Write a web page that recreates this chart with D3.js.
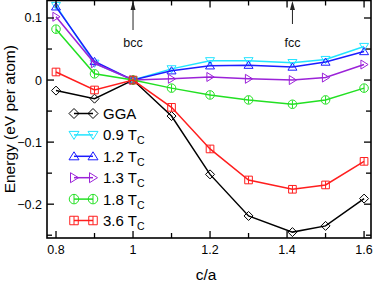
<!DOCTYPE html>
<html><head><meta charset="utf-8">
<script src="https://cdn.jsdelivr.net/npm/d3@7"></script>
<style>body{margin:0;background:#fff}svg{display:block}text{font-family:"Liberation Sans",Arial,sans-serif}</style>
</head><body>
<svg id="c" width="374" height="282"></svg>
<script>
const ca = [0.8, 0.9, 1.0, 1.1, 1.2, 1.3, 1.414, 1.5, 1.6];
const gga = [-0.017, -0.030, 0, -0.058, -0.152, -0.219, -0.245, -0.235, -0.191];
const t09 = [0.120, 0.027, 0, 0.018, 0.031, 0.031, 0.028, 0.033, 0.054];
const t12 = [0.118, 0.030, 0, 0.015, 0.023, 0.024, 0.021, 0.029, 0.046];
const t13 = [0.102, 0.027, 0, 0.002, 0.005, 0.002, 0.000, 0.004, 0.025];
const t18 = [0.082, 0.010, 0, -0.013, -0.024, -0.032, -0.039, -0.032, -0.013];
const t36 = [0.013, -0.016, 0, -0.044, -0.111, -0.161, -0.176, -0.169, -0.131];
const seriesNames = ["GGA", "0.9", "1.2", "1.3", "1.8", "3.6"];
const seriesColors = ["#000000", "#22e4ff", "#1c1cff", "#9b22d8", "#22e022", "#ff1e1e"];
const seriesMarkers = ["diamond", "tdown", "tup", "tright", "circle", "square"];
const seriesData = [gga, t09, t12, t13, t18, t36];
const xMajor = [0.8, 1.0, 1.2, 1.4, 1.6];
const xMinor = [0.9, 1.1, 1.3, 1.5];
const yMajor = [-0.2, -0.1, 0, 0.1];
const yMinor = [-0.25, -0.15, -0.05, 0.05];

const svg = d3.select("#c");
const L = 47, R = 371, T = 0.5, B = 238;
const x = d3.scaleLinear().domain([0.7766, 1.618]).range([L, R]);
const y = d3.scaleLinear().domain([-0.2545, 0.129]).range([B, 0]);

function marker(g, type, cx, cy, color, s) {
  s = s || 4.5;
  let p;
  if (type === "diamond") p = `M${cx},${cy-s}L${cx+s},${cy}L${cx},${cy+s}L${cx-s},${cy}Z`;
  else if (type === "tdown") p = `M${cx-s},${cy-s*0.7}L${cx+s},${cy-s*0.7}L${cx},${cy+s*0.9}Z`;
  else if (type === "tup") p = `M${cx-s},${cy+s*0.7}L${cx+s},${cy+s*0.7}L${cx},${cy-s*0.9}Z`;
  else if (type === "tright") p = `M${cx-s*0.7},${cy-s}L${cx-s*0.7},${cy+s}L${cx+s*0.9},${cy}Z`;
  else if (type === "square") p = `M${cx-s*0.85},${cy-s*0.85}h${s*1.7}v${s*1.7}h${-s*1.7}Z`;
  if (type === "circle") {
    g.append("circle").attr("cx", cx).attr("cy", cy).attr("r", s*0.95)
      .attr("fill", "none").attr("stroke", color).attr("stroke-width", 1);
  } else {
    g.append("path").attr("d", p).attr("fill", "none").attr("stroke", color).attr("stroke-width", 1);
  }
  if (type === "circle" || type === "square") {
    g.append("line").attr("x1", cx).attr("x2", cx).attr("y1", cy - s*0.85).attr("y2", cy + s*0.85)
      .attr("stroke", color).attr("stroke-width", 1);
  }
}

// series
const plot = svg.append("g");
const line = d3.line().x(d => x(d[0])).y(d => y(d[1]));
seriesData.forEach((vals, i) => {
  const pts = ca.map((c, j) => [c, vals[j]]);
  plot.append("path").attr("d", line(pts)).attr("fill", "none")
    .attr("stroke", seriesColors[i]).attr("stroke-width", 1.5);
  pts.forEach(p => marker(plot, seriesMarkers[i], x(p[0]), y(p[1]), seriesColors[i]));
});

// frame
svg.append("rect").attr("x", L).attr("y", T).attr("width", R - L).attr("height", B - T)
  .attr("fill", "none").attr("stroke", "#000").attr("stroke-width", 1.6);

// ticks
const tk = svg.append("g").attr("stroke", "#000").attr("stroke-width", 1.3);
xMajor.forEach(v => {
  tk.append("line").attr("x1", x(v)).attr("x2", x(v)).attr("y1", B).attr("y2", B - 7);
  tk.append("line").attr("x1", x(v)).attr("x2", x(v)).attr("y1", T).attr("y2", T + 7);
});
xMinor.forEach(v => {
  tk.append("line").attr("x1", x(v)).attr("x2", x(v)).attr("y1", B).attr("y2", B - 5);
  tk.append("line").attr("x1", x(v)).attr("x2", x(v)).attr("y1", T).attr("y2", T + 5);
});
yMajor.forEach(v => {
  tk.append("line").attr("x1", L).attr("x2", L + 7).attr("y1", y(v)).attr("y2", y(v));
  tk.append("line").attr("x1", R).attr("x2", R - 7).attr("y1", y(v)).attr("y2", y(v));
});
yMinor.forEach(v => {
  tk.append("line").attr("x1", L).attr("x2", L + 5).attr("y1", y(v)).attr("y2", y(v));
  tk.append("line").attr("x1", R).attr("x2", R - 5).attr("y1", y(v)).attr("y2", y(v));
});

// tick labels
const fmtX = d3.format("~g");
xMajor.forEach(v => {
  svg.append("text").attr("x", x(v)).attr("y", B + 16).attr("text-anchor", "middle")
    .attr("font-size", 12.5).text(fmtX(v));
});
yMajor.forEach(v => {
  svg.append("text").attr("x", L - 5).attr("y", y(v) + 4.5).attr("text-anchor", "end")
    .attr("font-size", 12.5).text(fmtX(v));
});

// axis titles
svg.append("text").attr("x", 206).attr("y", 280).attr("text-anchor", "middle")
  .attr("font-size", 15.5).text("c/a");
svg.append("text").attr("transform", `translate(15,${(T + B) / 2}) rotate(-90)`)
  .attr("text-anchor", "middle").attr("font-size", 15.5).text("Energy (eV per atom)");

// arrows
const arrows = [{v: 1.0, label: "bcc", len: 30}, {v: 1.414, label: "fcc", len: 24}];
arrows.forEach(a => {
  const ax = x(a.v);
  svg.append("line").attr("x1", ax).attr("x2", ax).attr("y1", 3).attr("y2", a.len)
    .attr("stroke", "#222").attr("stroke-width", 1);
  svg.append("path").attr("d", `M${ax},1L${ax-2.5},10L${ax+2.5},10Z`).attr("fill", "#222");
  svg.append("text").attr("x", ax).attr("y", 47).attr("text-anchor", "middle")
    .attr("font-size", 12.5).attr("fill", "#111").text(a.label);
});

// legend
const lg = svg.append("g");
seriesNames.forEach((n, i) => {
  const cy = 113.5 + i * 21.4;
  lg.append("line").attr("x1", 74).attr("x2", 93).attr("y1", cy).attr("y2", cy)
    .attr("stroke", seriesColors[i]).attr("stroke-width", 1.5);
  marker(lg, seriesMarkers[i], 74, cy, seriesColors[i], 5);
  marker(lg, seriesMarkers[i], 93, cy, seriesColors[i], 5);
  const t = lg.append("text").attr("x", 103).attr("y", cy + 5.5).attr("font-size", 15);
  if (i === 0) t.text(n);
  else {
    t.append("tspan").text(n + " T");
    t.append("tspan").attr("font-size", 10.5).attr("dy", 4).text("C");
  }
});
</script>
</body></html>
